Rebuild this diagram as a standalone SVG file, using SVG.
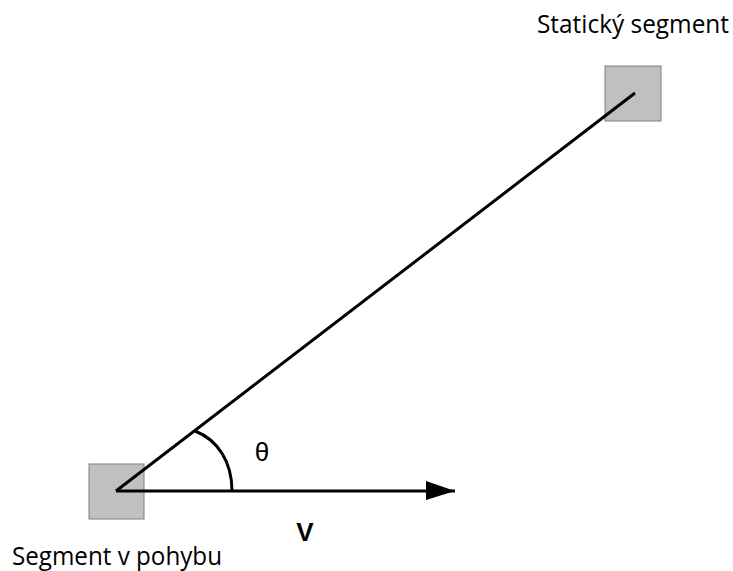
<svg xmlns="http://www.w3.org/2000/svg" width="733" height="571" viewBox="0 0 733 571">
<style>
.seg{fill:#c0c0c0;stroke:#7f7f7f;stroke-width:1}
.ln{stroke:#000;stroke-width:3;fill:none}
.lbl{font-family:"Open Sans","Liberation Sans",sans-serif;font-size:25px;fill:#000}
.sym{font-family:"Liberation Sans",Arial,sans-serif;font-size:26px;fill:#000}
</style>
<defs>
<marker id="ah" markerWidth="30" markerHeight="20" refX="29" refY="10" orient="auto" markerUnits="userSpaceOnUse">
<path d="M0,0 L29,10 L0,19 Z" fill="#000"/>
</marker>
</defs>
<rect width="733" height="571" fill="#fff"/>
<g id="static-segment">
<rect class="seg" x="605" y="66" width="56" height="55"/>
<text class="lbl" x="633" y="33" text-anchor="middle" textLength="192" lengthAdjust="spacingAndGlyphs">Statický segment</text>
</g>
<g id="moving-segment">
<rect class="seg" x="89" y="464" width="55" height="55"/>
<text class="lbl" x="12" y="565" textLength="210" lengthAdjust="spacingAndGlyphs">Segment v pohybu</text>
</g>
<g id="connectors">
<line class="ln" x1="116" y1="491" x2="635" y2="93"/>
<line class="ln" x1="116" y1="491" x2="455" y2="491" marker-end="url(#ah)"/>
<path class="ln" d="M195,431 C218,440 232,462 232,491"/>
</g>
<g id="labels">
<text class="sym" x="262" y="461" text-anchor="middle">θ</text>
<text class="sym" x="305" y="541" text-anchor="middle" font-weight="bold">V</text>
</g>
</svg>
